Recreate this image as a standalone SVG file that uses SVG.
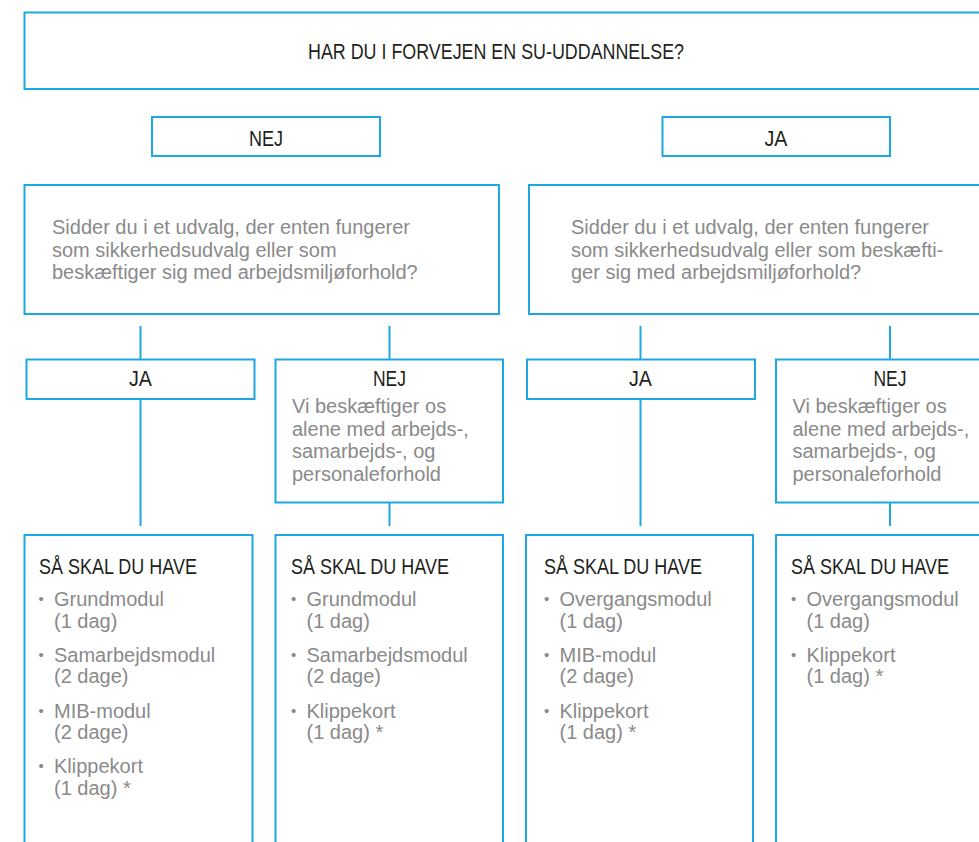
<svg xmlns="http://www.w3.org/2000/svg" width="979" height="842" viewBox="0 0 979 842">
<style>
.box{fill:#fff;stroke:#1ea7e1;stroke-width:2}
.conn line{stroke:#1ea7e1;stroke-width:2}
.h{font-family:"Liberation Sans",Arial,sans-serif;font-size:22px;fill:#231f20}
.c{text-anchor:middle}
.b{font-family:"Liberation Sans",Arial,sans-serif;font-size:20px;fill:#8a8a8a}
.dot{font-family:"Liberation Sans",Arial,sans-serif;font-size:15px;fill:#8a8a8a}
</style>
<rect width="979" height="842" fill="#fff"/>
<g class="conn" id="connectors">
<line x1="140.5" y1="326" x2="140.5" y2="359"/>
<line x1="389.5" y1="326" x2="389.5" y2="359"/>
<line x1="640.5" y1="326" x2="640.5" y2="359"/>
<line x1="890" y1="326" x2="890" y2="359"/>
<line x1="140.5" y1="399" x2="140.5" y2="526"/>
<line x1="389.5" y1="502" x2="389.5" y2="526"/>
<line x1="640.5" y1="399" x2="640.5" y2="526"/>
<line x1="890" y1="502" x2="890" y2="526"/>
</g>
<g id="q1">
<rect class="box" x="24.5" y="12.5" width="990" height="76.5"/>
<text class="h c" x="496" y="59" textLength="376" lengthAdjust="spacingAndGlyphs">HAR DU I FORVEJEN EN SU-UDDANNELSE?</text>
</g>
<g id="nej-top">
<rect class="box" x="152" y="117" width="228" height="39"/>
<text class="h c" x="266" y="145.5" textLength="34" lengthAdjust="spacingAndGlyphs">NEJ</text>
</g>
<g id="ja-top">
<rect class="box" x="662.5" y="117" width="227.5" height="39"/>
<text class="h c" x="776" y="145.5" textLength="23" lengthAdjust="spacingAndGlyphs">JA</text>
</g>
<g id="q2-left">
<rect class="box" x="24.5" y="185" width="474.5" height="129"/>
<text class="b" x="52" y="234">Sidder du i et udvalg, der enten fungerer</text>
<text class="b" x="52" y="256.5">som sikkerhedsudvalg eller som</text>
<text class="b" x="52" y="279">beskæftiger sig med arbejdsmiljøforhold?</text>
</g>
<g id="q2-right">
<rect class="box" x="529" y="185" width="480" height="129"/>
<text class="b" x="571" y="234">Sidder du i et udvalg, der enten fungerer</text>
<text class="b" x="571" y="256.5">som sikkerhedsudvalg eller som beskæfti-</text>
<text class="b" x="571" y="279">ger sig med arbejdsmiljøforhold?</text>
</g>
<g id="ja-1">
<rect class="box" x="26.5" y="359.5" width="228" height="39.5"/>
<text class="h c" x="140.5" y="386" textLength="23" lengthAdjust="spacingAndGlyphs">JA</text>
</g>
<g id="nej-1">
<rect class="box" x="275.5" y="359.5" width="227.5" height="143"/>
<text class="h c" x="389.5" y="386" textLength="33" lengthAdjust="spacingAndGlyphs">NEJ</text>
<text class="b" x="292" y="413">Vi beskæftiger os</text>
<text class="b" x="292" y="435.5">alene med arbejds-,</text>
<text class="b" x="292" y="458">samarbejds-, og</text>
<text class="b" x="292" y="480.5">personaleforhold</text>
</g>
<g id="ja-2">
<rect class="box" x="527" y="359.5" width="228" height="39.5"/>
<text class="h c" x="640.5" y="386" textLength="23" lengthAdjust="spacingAndGlyphs">JA</text>
</g>
<g id="nej-2">
<rect class="box" x="776" y="359.5" width="228" height="143"/>
<text class="h c" x="890" y="386" textLength="33" lengthAdjust="spacingAndGlyphs">NEJ</text>
<text class="b" x="792.5" y="413">Vi beskæftiger os</text>
<text class="b" x="792.5" y="435.5">alene med arbejds-,</text>
<text class="b" x="792.5" y="458">samarbejds-, og</text>
<text class="b" x="792.5" y="480.5">personaleforhold</text>
</g>
<g id="result-1">
<rect class="box" x="24.5" y="535" width="228" height="320"/>
<text class="h" x="39" y="573.5" textLength="158" lengthAdjust="spacingAndGlyphs">SÅ SKAL DU HAVE</text>
<text class="dot" x="38.5" y="604">•</text><text class="b" x="54" y="606">Grundmodul</text>
<text class="b" x="54" y="627.5">(1 dag)</text>
<text class="dot" x="38.5" y="659.5">•</text><text class="b" x="54" y="661.5">Samarbejdsmodul</text>
<text class="b" x="54" y="683">(2 dage)</text>
<text class="dot" x="38.5" y="715.5">•</text><text class="b" x="54" y="717.5">MIB-modul</text>
<text class="b" x="54" y="739">(2 dage)</text>
<text class="dot" x="38.5" y="771">•</text><text class="b" x="54" y="773">Klippekort</text>
<text class="b" x="54" y="795">(1 dag) *</text>
</g>
<g id="result-2">
<rect class="box" x="275.5" y="535" width="227.5" height="320"/>
<text class="h" x="291" y="573.5" textLength="158" lengthAdjust="spacingAndGlyphs">SÅ SKAL DU HAVE</text>
<text class="dot" x="291" y="604">•</text><text class="b" x="306.5" y="606">Grundmodul</text>
<text class="b" x="306.5" y="627.5">(1 dag)</text>
<text class="dot" x="291" y="659.5">•</text><text class="b" x="306.5" y="661.5">Samarbejdsmodul</text>
<text class="b" x="306.5" y="683">(2 dage)</text>
<text class="dot" x="291" y="715.5">•</text><text class="b" x="306.5" y="717.5">Klippekort</text>
<text class="b" x="306.5" y="739">(1 dag) *</text>
</g>
<g id="result-3">
<rect class="box" x="526" y="535" width="227" height="320"/>
<text class="h" x="544" y="573.5" textLength="158" lengthAdjust="spacingAndGlyphs">SÅ SKAL DU HAVE</text>
<text class="dot" x="544" y="604">•</text><text class="b" x="559.5" y="606">Overgangsmodul</text>
<text class="b" x="559.5" y="627.5">(1 dag)</text>
<text class="dot" x="544" y="659.5">•</text><text class="b" x="559.5" y="661.5">MIB-modul</text>
<text class="b" x="559.5" y="683">(2 dage)</text>
<text class="dot" x="544" y="715.5">•</text><text class="b" x="559.5" y="717.5">Klippekort</text>
<text class="b" x="559.5" y="739">(1 dag) *</text>
</g>
<g id="result-4">
<rect class="box" x="776" y="535" width="228" height="320"/>
<text class="h" x="791" y="573.5" textLength="158" lengthAdjust="spacingAndGlyphs">SÅ SKAL DU HAVE</text>
<text class="dot" x="791" y="604">•</text><text class="b" x="806.5" y="606">Overgangsmodul</text>
<text class="b" x="806.5" y="627.5">(1 dag)</text>
<text class="dot" x="791" y="659.5">•</text><text class="b" x="806.5" y="661.5">Klippekort</text>
<text class="b" x="806.5" y="683">(1 dag) *</text>
</g>
</svg>
